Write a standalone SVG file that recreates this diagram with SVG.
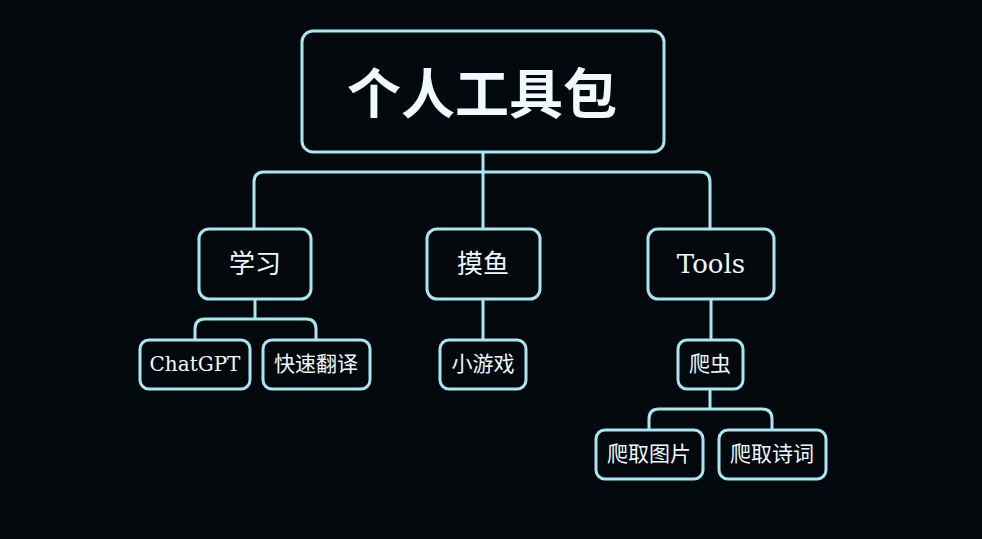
<svg xmlns="http://www.w3.org/2000/svg" width="982" height="539" viewBox="0 0 982 539">
<style>
.bx{fill:#03080c;stroke:#a8e6f3;stroke-width:3}
.ln{fill:none;stroke:#a8e6f3;stroke-width:3}
text{fill:#eefaff;text-anchor:middle;dominant-baseline:central;font-family:"DejaVu Serif","Noto Sans CJK SC",serif}
.t0{font-size:54px;font-weight:bold;font-family:"Noto Sans CJK SC",sans-serif}
.t1{font-size:26px}
.t2{font-size:21px}
.lt{font-size:20px}
</style>
<rect width="982" height="539" fill="#03080c"/>
<g id="connectors">
<path class="ln" d="M483 152V172M254 229V182Q254 172 264 172H700Q710 172 710 182V229M483 172V229"/>
<path class="ln" d="M255 299V319M195 340V329Q195 319 205 319H306Q316 319 316 329V340"/>
<path class="ln" d="M483 299V340"/>
<path class="ln" d="M711 299V340"/>
<path class="ln" d="M710 389V409M649 430V419Q649 409 659 409H762Q772 409 772 419V430"/>
</g>
<g id="root"><rect class="bx" x="302" y="31" width="362" height="121" rx="11"/><text class="t0" x="482" y="90">个人工具包</text></g>
<g id="study"><rect class="bx" x="199" y="229" width="112" height="70" rx="10"/><text class="t1" x="255" y="264">学习</text></g>
<g id="moyu"><rect class="bx" x="427" y="229" width="113" height="70" rx="10"/><text class="t1" x="483" y="264">摸鱼</text></g>
<g id="tools"><rect class="bx" x="648" y="229" width="126" height="70" rx="10"/><text class="t1" x="711" y="264">Tools</text></g>
<g id="chatgpt"><rect class="bx" x="140" y="340" width="110" height="49" rx="9"/><text class="lt" x="195" y="364">ChatGPT</text></g>
<g id="fanyi"><rect class="bx" x="263" y="340" width="107" height="49" rx="9"/><text class="t2" x="316" y="364">快速翻译</text></g>
<g id="game"><rect class="bx" x="440" y="340" width="86" height="49" rx="9"/><text class="t2" x="483" y="364">小游戏</text></g>
<g id="spider"><rect class="bx" x="678" y="340" width="65" height="49" rx="9"/><text class="t2" x="710" y="364">爬虫</text></g>
<g id="pic"><rect class="bx" x="596" y="430" width="107" height="49" rx="9"/><text class="t2" x="649" y="454">爬取图片</text></g>
<g id="poem"><rect class="bx" x="719" y="430" width="107" height="49" rx="9"/><text class="t2" x="772" y="454">爬取诗词</text></g>
</svg>
